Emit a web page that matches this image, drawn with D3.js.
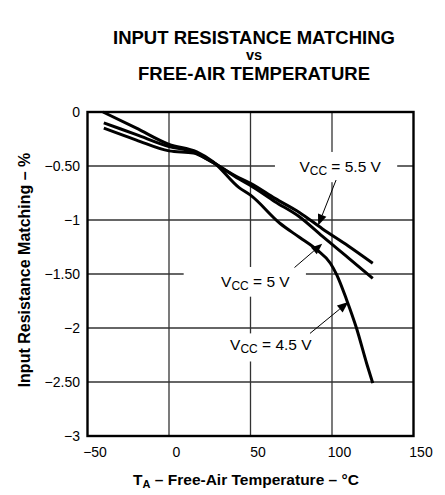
<!DOCTYPE html>
<html><head><meta charset="utf-8">
<script src="https://cdn.jsdelivr.net/npm/d3@7"></script>
<style>body{margin:0;background:#fff}svg{display:block;font-family:"Liberation Sans",Arial,sans-serif}</style>
</head><body><svg id="c" width="445" height="495"></svg>
<script>
// Data
const xTicks = [-50, 0, 50, 100, 150];
const yTicks = [0, -0.5, -1, -1.5, -2, -2.5, -3];
const yTickLabels = ["0", "\u22120.50", "\u22121", "\u22121.50", "\u22122", "\u22122.50", "\u22123"];
const xTickLabels = ["\u221250", "0", "50", "100", "150"];
const temp55 = [-40, -20, 0, 15, 25, 43, 50, 65, 80, 94, 110, 125];
const vcc55  = [-0.10, -0.21, -0.32, -0.37, -0.45, -0.61, -0.66, -0.80, -0.93, -1.08, -1.24, -1.40];
const temp5  = [-40, -20, 0, 15, 25, 43, 50, 65, 80, 94, 110, 125];
const vcc5   = [-0.15, -0.26, -0.36, -0.38, -0.45, -0.62, -0.68, -0.83, -0.97, -1.15, -1.35, -1.54];
const temp45 = [-40.5, -20, 0, 17, 27, 43, 50, 68, 80, 91, 99, 103, 109, 115, 121.5, 125];
const vcc45  = [0, -0.15, -0.30, -0.37, -0.46, -0.70, -0.77, -1.03, -1.16, -1.28, -1.40, -1.51, -1.74, -2.00, -2.34, -2.51];
const labels = [
  {main: "5.5 V", t: 105, v: -0.51, box: [65, 140, -0.37, -0.65], arrow: [102.5, -0.63, 91.5, -1.05]},
  {main: "5 V",   t: 53,  v: -1.57, box: [9, 84, -1.435, -1.71], arrow: [77, -1.44, 94, -1.22]},
  {main: "4.5 V", t: 62.5, v: -2.16, box: [22, 97.5, -2.05, -2.31], arrow: [86.5, -2.05, 110, -1.76]}
];

const svg = d3.select("#c");
const L = 87.5, R = 413.5, T = 112, B = 436;
const x = d3.scaleLinear().domain([-50, 150]).range([L, R]);
const y = d3.scaleLinear().domain([0, -3]).range([T, B]);

// Title
const title = svg.append("g").attr("font-weight", "bold").attr("text-anchor", "middle").attr("fill", "#000");
title.append("text").attr("x", 254).attr("y", 44).attr("font-size", 18.5).text("INPUT RESISTANCE MATCHING");
title.append("text").attr("x", 254).attr("y", 60).attr("font-size", 14.5).text("vs");
title.append("text").attr("x", 254).attr("y", 80).attr("font-size", 18.5).text("FREE-AIR TEMPERATURE");

// Grid
const grid = svg.append("g").attr("stroke", "#333").attr("stroke-width", 1.3);
grid.selectAll("line.v").data(xTicks.slice(1, -1)).join("line")
  .attr("x1", d => x(d)).attr("x2", d => x(d)).attr("y1", T).attr("y2", B);
grid.selectAll("line.h").data(yTicks.slice(1, -1)).join("line").attr("class", "h")
  .attr("y1", d => y(d)).attr("y2", d => y(d)).attr("x1", L).attr("x2", R);

// label boxes (white) covering grid
svg.append("g").selectAll("rect").data(labels).join("rect")
  .attr("x", d => x(d.box[0])).attr("width", d => x(d.box[1]) - x(d.box[0]))
  .attr("y", d => y(d.box[2])).attr("height", d => y(d.box[3]) - y(d.box[2]))
  .attr("fill", "#fff");

// Frame
svg.append("rect").attr("x", L).attr("y", T).attr("width", R - L).attr("height", B - T)
  .attr("fill", "none").attr("stroke", "#000").attr("stroke-width", 2.4);

// Axes tick labels
const xAxis = d3.axisBottom(x).tickValues(xTicks).tickSize(0).tickPadding(11)
  .tickFormat((d, i) => xTickLabels[i]);
const gx = svg.append("g").attr("transform", `translate(0,${B})`).call(xAxis);
gx.select(".domain").remove();
gx.selectAll("text").attr("font-size", 14).attr("dx", 7).attr("font-family", "Liberation Sans, Arial, sans-serif").attr("fill", "#000");

const yAxis = d3.axisLeft(y).tickValues(yTicks).tickSize(0).tickPadding(7.5)
  .tickFormat((d, i) => yTickLabels[i]);
const gy = svg.append("g").attr("transform", `translate(${L},0)`).call(yAxis);
gy.select(".domain").remove();
gy.selectAll("text").attr("font-size", 14).attr("font-family", "Liberation Sans, Arial, sans-serif").attr("fill", "#000");

// Axis titles
const xt = svg.append("text").attr("x", 246).attr("y", 485).attr("text-anchor", "middle")
  .attr("font-weight", "bold").attr("font-size", 15.5);
xt.append("tspan").text("T");
xt.append("tspan").attr("font-size", 11).attr("dy", 3).text("A");
xt.append("tspan").attr("dy", -3).text(" \u2013 Free-Air Temperature \u2013 \u00B0C");

svg.append("text").attr("transform", `translate(30,${(T + B) / 2 - 4}) rotate(-90)`)
  .attr("text-anchor", "middle").attr("font-weight", "bold").attr("font-size", 16)
  .text("Input Resistance Matching \u2013 %");

// Curves
const line = d3.line().x(d => x(d[0])).y(d => y(d[1])).curve(d3.curveMonotoneX);
const series = [
  d3.zip(temp55, vcc55), d3.zip(temp5, vcc5), d3.zip(temp45, vcc45)
];
svg.append("g").selectAll("path").data(series).join("path")
  .attr("d", line).attr("fill", "none").attr("stroke", "#000").attr("stroke-width", 3)
  .attr("stroke-linejoin", "round");

// Annotations
const ann = svg.append("g");
labels.forEach(d => {
  const t = ann.append("text").attr("x", x(d.t)).attr("y", y(d.v) + 5).attr("text-anchor", "middle")
    .attr("font-size", 15.5).attr("fill", "#000");
  t.append("tspan").text("V");
  t.append("tspan").attr("font-size", 12).attr("dy", 3).text("CC");
  t.append("tspan").attr("dy", -3).text(" = " + d.main);
  const [t0, v0, t1, v1] = d.arrow;
  const x0 = x(t0), y0 = y(v0), x1 = x(t1), y1 = y(v1);
  const ang = Math.atan2(y1 - y0, x1 - x0);
  const len = 11, w = 4.5;
  const bx = x1 - len * Math.cos(ang), by = y1 - len * Math.sin(ang);
  ann.append("line").attr("x1", x0).attr("y1", y0).attr("x2", bx).attr("y2", by)
    .attr("stroke", "#000").attr("stroke-width", 1);
  const px = -Math.sin(ang) * w, py = Math.cos(ang) * w;
  ann.append("path").attr("d", `M${x1},${y1}L${bx + px},${by + py}L${bx - px},${by - py}Z`).attr("fill", "#000");
});
</script></body></html>
